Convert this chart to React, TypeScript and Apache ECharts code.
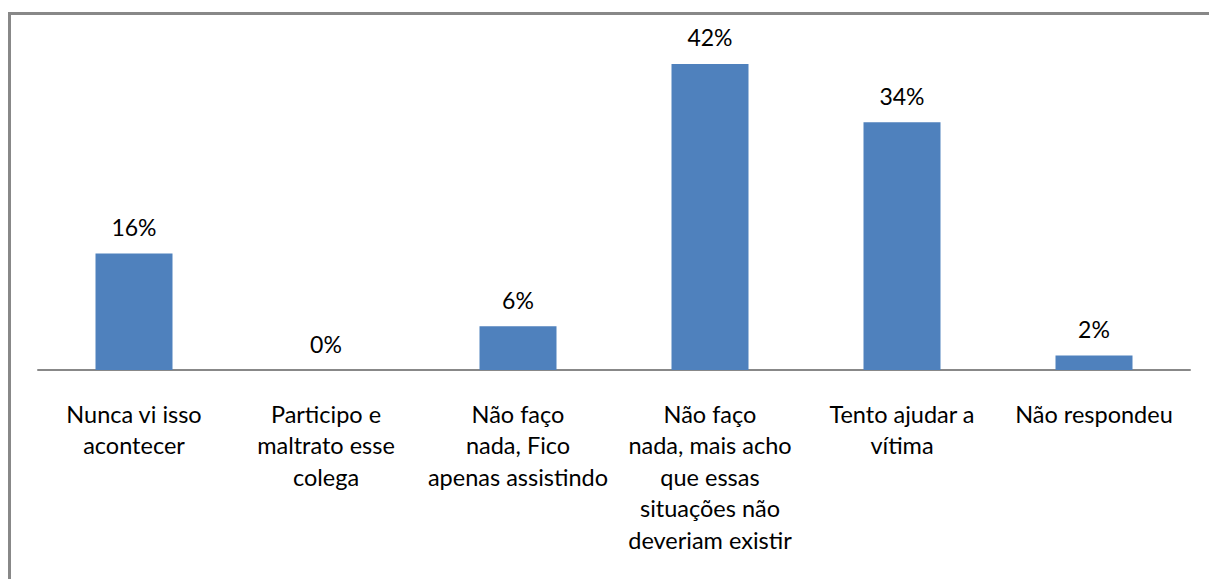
import React, { useEffect, useRef } from "react";
import * as echarts from "echarts";

const categories = [
  "Nunca vi isso\nacontecer",
  "Participo e\nmaltrato esse\ncolega",
  "Não faço\nnada, Fico\napenas assistindo",
  "Não faço\nnada, mais acho\nque essas\nsituações não\ndeveriam existir",
  "Tento ajudar a\nvítima",
  "Não respondeu",
];
const values = [16, 0, 6, 42, 34, 2];

export default function App() {
  const ref = useRef<HTMLDivElement>(null);
  useEffect(() => {
    if (!ref.current) return;
    const chart = echarts.init(ref.current, null, { renderer: "svg" });
    const font = "Lato";
    chart.setOption({
      animation: false,
      backgroundColor: "#ffffff",
      grid: { left: 38, right: 19, top: 42.1, bottom: 209, containLabel: false },
      xAxis: {
        type: "category",
        data: categories,
        axisLine: { show: true, lineStyle: { color: "#888888", width: 2 } },
        axisTick: { show: false },
        axisLabel: {
          interval: 0,
          margin: 28,
          color: "#000000",
          fontFamily: font,
          fontSize: 23.5,
          lineHeight: 31.5,
          align: "center",
        },
      },
      yAxis: {
        type: "value",
        min: 0,
        max: 45,
        show: false,
        splitLine: { show: false },
      },
      series: [
        {
          type: "bar",
          data: values,
          barWidth: 77,
          itemStyle: { color: "#4F81BD" },
          label: {
            show: true,
            position: "top",
            distance: 15,
            formatter: "{c}%",
            color: "#000000",
            fontFamily: font,
            fontSize: 23,
          },
        },
      ],
      graphic: [
        {
          type: "polyline",
          shape: { points: [[9.5, 579], [9.5, 13.5], [1209, 13.5]] },
          style: { stroke: "#888888", lineWidth: 3, fill: "none" },
          silent: true,
        },
      ],
    });
    return () => chart.dispose();
  }, []);
  return (
    <div
      ref={ref}
      style={{ position: "fixed", left: 0, top: 0, width: 1209, height: 579 }}
    />
  );
}
